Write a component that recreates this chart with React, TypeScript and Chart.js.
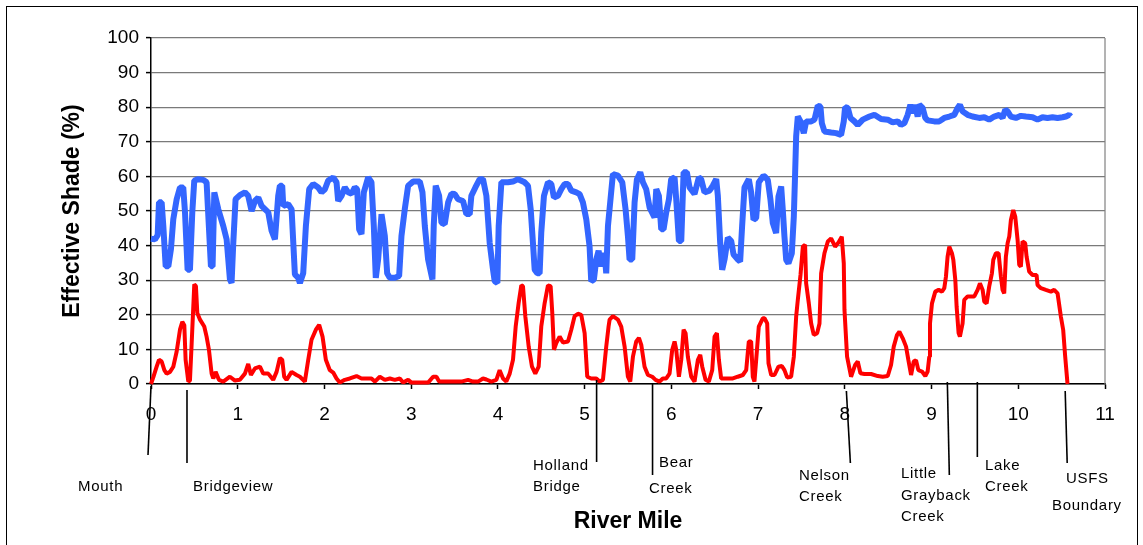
import React, { useEffect, useRef } from "react";
import { Chart, registerables } from "chart.js";

Chart.register(...registerables);

const FONT = '"Liberation Sans", Arial, sans-serif';

const xTickValues = [0, 1, 2, 3, 4, 5, 6, 7, 8, 9, 10, 11];
const yTickValues = [0, 10, 20, 30, 40, 50, 60, 70, 80, 90, 100];

const blueMiles = [
  0.0, 0.046, 0.077, 0.092, 0.123, 0.142, 0.169, 0.2, 0.23, 0.257, 0.296, 0.334, 0.372, 0.392, 0.422, 0.449, 0.476, 0.499,
  0.545, 0.603, 0.641, 0.661, 0.691, 0.71, 0.73, 0.776, 0.833, 0.872, 0.91, 0.929, 0.949, 0.975, 1.025, 1.083, 1.121, 1.16,
  1.198, 1.237, 1.275, 1.352, 1.39, 1.429, 1.467, 1.486, 1.513, 1.525, 1.582, 1.621, 1.659, 1.697,
  1.717, 1.755, 1.786, 1.824, 1.87, 1.928, 1.966, 2.005, 2.043, 2.101, 2.139, 2.158, 2.197, 2.235, 2.273, 2.312, 2.35, 2.377,
  2.4, 2.427, 2.454, 2.504, 2.542, 2.569, 2.592, 2.619, 2.658, 2.696, 2.723, 2.753, 2.811, 2.861, 2.888, 2.926, 2.965, 3.022,
  3.099, 3.13, 3.157, 3.195, 3.245, 3.26, 3.283, 3.322, 3.349, 3.387, 3.426, 3.464,
  3.502, 3.54, 3.598, 3.636, 3.675, 3.694, 3.74, 3.79, 3.828, 3.867, 3.905, 3.944, 3.963, 3.994, 4.009, 4.04, 4.116, 4.174,
  4.232, 4.308, 4.347, 4.378, 4.404, 4.424, 4.454, 4.481, 4.5, 4.531, 4.577, 4.616, 4.646, 4.692, 4.731, 4.769, 4.808, 4.846,
  4.904, 4.942, 4.98, 5.019, 5.057, 5.076, 5.107, 5.134, 5.161, 5.192, 5.23, 5.249, 5.269,
  5.326, 5.384, 5.434, 5.472, 5.499, 5.518, 5.549, 5.576, 5.603, 5.641, 5.672, 5.71, 5.749, 5.787, 5.806, 5.826, 5.856, 5.883,
  5.91, 5.941, 5.972, 5.998, 6.037, 6.056, 6.087, 6.114, 6.141, 6.179, 6.21, 6.267, 6.317, 6.344, 6.382, 6.44, 6.478, 6.517,
  6.536, 6.563, 6.586, 6.613, 6.651, 6.69, 6.717, 6.766, 6.793, 6.816, 6.843, 6.893, 6.92, 6.947, 6.978, 7.008, 7.062,
  7.074, 7.112, 7.143, 7.17, 7.208, 7.235, 7.266, 7.285, 7.304, 7.324, 7.35, 7.389, 7.412, 7.427, 7.439, 7.458, 7.489, 7.527,
  7.554, 7.612, 7.65, 7.688, 7.719, 7.735, 7.765, 7.842, 7.9, 7.957, 7.988, 8.003, 8.034, 8.065, 8.111, 8.149, 8.207, 8.284,
  8.341, 8.418, 8.495, 8.552, 8.61, 8.648, 8.687, 8.725, 8.756, 8.783, 8.81, 8.84,
  8.859, 8.897, 8.928, 8.955, 9.032, 9.089, 9.147, 9.205, 9.262, 9.301, 9.327, 9.358, 9.416, 9.473, 9.55, 9.608, 9.665, 9.723,
  9.781, 9.819, 9.85, 9.877, 9.915, 9.973, 10.03, 10.088, 10.165, 10.222, 10.28, 10.337, 10.395, 10.453, 10.51, 10.549, 10.587,
  10.606,
];

const blueShade = [
  42, 41.8, 43, 52.5, 52.5, 45.7, 34, 34, 39, 47.6, 53.4, 56.8, 56.8, 49.6, 33, 33, 49.6, 58.8,
  59.2, 59, 58.3, 48.6, 34, 34, 55.4, 50.5, 45.7, 41.8, 30.2, 29.2, 40.9, 53.4, 54.6, 55.4, 54.4, 50,
  52.9, 53.9, 51.5, 49.6, 44.3, 41.8, 54.4, 57.3, 57.3, 51.5, 52, 50.5, 31.7, 30.7,
  29.2, 32, 45.7, 56.3, 57.8, 56.8, 55.4, 56.3, 58.8, 59.7, 58.3, 52.9, 54.4, 56.8, 55.4, 55, 56.8, 56.3,
  44.7, 43.3, 55.4, 59.7, 58.3, 45.7, 30.7, 36, 49.1, 42.8, 32, 30.7, 30.7, 31.2, 42.8, 50.5, 57.3, 58.5,
  58.5, 55.4, 45.7, 36, 30.2, 45.7, 57.3, 54.4, 46.6, 46.2, 52.5, 55,
  54.9, 53.4, 52.9, 49.1, 49.1, 54.4, 56.8, 59.2, 59.2, 54.4, 40.8, 33, 29.7, 29.2, 45.7, 58.3, 58.3, 58.5,
  59.2, 58.3, 57.3, 50.5, 40.8, 33, 32, 32, 43.8, 54.4, 58.3, 57.8, 53.9, 54.4, 56.3, 57.8, 57.8, 55.9,
  55.4, 54.9, 52.5, 47.6, 39.8, 29.7, 30.2, 36, 38.5, 34, 37.9, 32, 45.7,
  60.7, 60.2, 58.3, 50.5, 42.8, 36, 36, 52.5, 59.2, 61.2, 58.3, 56.3, 51, 49.1, 48.1, 56.3, 54.4, 44.7,
  44.7, 49.6, 53.4, 59.2, 59.7, 53.4, 41.3, 41.3, 61.2, 61.2, 56.8, 54.9, 59.7, 59.2, 55.4, 55.9, 57.3, 59.2,
  54.4, 40.8, 33, 36, 42.3, 41.3, 37.4, 36, 35.4, 45.7, 56.8, 59.2, 55.4, 47.5, 48, 58.3, 60.2,
  60, 59, 53.2, 46.5, 43.6, 54.2, 57.1, 50.3, 42.6, 35.9, 34.9, 37.8, 48.4, 60.9, 71.6, 77.3, 75.9, 72.5,
  75.9, 75.9, 76.4, 80.4, 80.2, 75.4, 73, 72.7, 72.5, 72, 75.9, 80, 79.8, 76.9, 75.9, 74.9, 76.4, 77.3,
  77.8, 76.6, 76.4, 75.6, 75.9, 74.9, 75.4, 77.8, 80.7, 78.3, 80.7, 77.3,
  80.7, 79.8, 76.9, 76.2, 75.9, 75.9, 76.9, 77.3, 77.8, 79.8, 80.7, 78.8, 77.8, 77.3, 76.9, 77.1, 76.4, 77.3,
  77.8, 76.9, 79.3, 78.8, 77.3, 76.9, 77.5, 77.3, 77.1, 76.4, 77.1, 76.9, 77.1, 76.9, 77.1, 77.3, 77.8,
  77.3,
];

const redMiles = [
  0.0, 0.027, 0.065, 0.092, 0.123, 0.154, 0.18, 0.219, 0.257, 0.296, 0.334, 0.361, 0.384, 0.399, 0.43, 0.449, 0.469, 0.488,
  0.499, 0.518, 0.534, 0.565, 0.614, 0.641, 0.668, 0.699, 0.718, 0.745, 0.783, 0.833, 0.91, 0.968, 1.025, 1.083, 1.121, 1.152,
  1.198, 1.256, 1.294, 1.352, 1.409, 1.448, 1.486, 1.513, 1.536, 1.563, 1.621, 1.678,
  1.717, 1.774, 1.813, 1.851, 1.901, 1.939, 1.978, 2.016, 2.062, 2.101, 2.139, 2.177, 2.235, 2.293, 2.37, 2.427, 2.542, 2.581,
  2.638, 2.696, 2.754, 2.811, 2.869, 2.907, 2.965, 3.003, 3.099, 3.195, 3.253, 3.291, 3.322, 3.406,
  3.502, 3.579, 3.656, 3.713, 3.771, 3.828, 3.867, 3.924, 3.982, 4.02, 4.059, 4.097, 4.136, 4.174, 4.205, 4.239, 4.27, 4.289,
  4.316, 4.355, 4.393, 4.431, 4.47, 4.5, 4.539, 4.577, 4.608, 4.627, 4.646, 4.673, 4.712, 4.75, 4.808, 4.846, 4.884, 4.923,
  4.961, 5.0, 5.03, 5.076, 5.134, 5.172, 5.211, 5.249, 5.276,
  5.288, 5.326, 5.384, 5.422, 5.461, 5.499, 5.526, 5.557, 5.595, 5.626, 5.653, 5.691, 5.73, 5.78, 5.818, 5.864, 5.902, 5.941,
  5.979, 6.01, 6.037, 6.056, 6.087, 6.114, 6.141, 6.164, 6.19, 6.229, 6.267, 6.306, 6.333, 6.356, 6.394, 6.432, 6.471, 6.498,
  6.525, 6.548, 6.574, 6.632, 6.709, 6.766, 6.824, 6.863, 6.893, 6.92, 6.939, 6.958, 6.978, 7.008, 7.054,
  7.074, 7.105, 7.12, 7.151, 7.189, 7.235, 7.274, 7.304, 7.335, 7.381, 7.412, 7.439, 7.458, 7.489, 7.516, 7.542, 7.554, 7.585,
  7.612, 7.642, 7.681, 7.708, 7.727, 7.765, 7.804, 7.842, 7.888, 7.927, 7.965, 7.988, 7.996, 8.026, 8.072, 8.119, 8.149, 8.18,
  8.226, 8.303, 8.38, 8.437, 8.495, 8.533, 8.564, 8.602, 8.629, 8.668, 8.706, 8.733, 8.764, 8.794, 8.821, 8.848,
  8.89, 8.928, 8.955, 8.974, 8.982, 9.005, 9.043, 9.082, 9.12, 9.147, 9.166, 9.185, 9.205, 9.235, 9.251, 9.274, 9.289, 9.312,
  9.327, 9.358, 9.377, 9.416, 9.493, 9.531, 9.558, 9.589, 9.608, 9.635, 9.665, 9.696, 9.712, 9.742, 9.773, 9.8, 9.819, 9.838,
  9.857, 9.877, 9.896, 9.915, 9.942, 9.965, 9.992, 10.011, 10.03, 10.049, 10.08, 10.096, 10.126, 10.165, 10.211, 10.222, 10.261,
  10.318, 10.376, 10.414, 10.453, 10.491, 10.518, 10.541, 10.568,
];

const redShade = [
  0, 2, 5, 7, 6.5, 4, 3, 3.5, 5, 9.4, 15.7, 18, 17, 7, 0.7, 1, 11.8, 22.5,
  28.8, 28.3, 20.5, 18.6, 16.6, 13.7, 9.9, 3, 1.6, 3.5, 1.2, 0.7, 2.1, 1, 1.2, 3, 5.8, 2.6,
  4.5, 5, 3, 3, 1.2, 3.5, 7.5, 7, 2.1, 1.2, 3.5, 2.6,
  2.1, 0.7, 7, 12.8, 15.7, 17.1, 13.7, 7, 4, 3.3, 1.6, 0.4, 1.2, 1.6, 2.3, 1.6, 1.6, 0.7,
  2.1, 1.2, 1.6, 1.2, 1.6, 0.4, 1.2, 0.4, 0.4, 0.4, 2.1, 2.1, 0.7, 0.7,
  0.7, 0.7, 1.2, 0.7, 0.7, 1.6, 1.3, 0.7, 1.2, 4, 1.6, 0.7, 3, 7, 16.6, 23.4, 28.5, 28.3,
  19.6, 10.8, 5, 3, 5, 16.6, 23.4, 28.5, 28.3, 20.5, 9.9, 11.8, 13.7, 12, 12.3, 15.7, 19.6, 20.3,
  20, 14.7, 2.1, 1.6, 1.6, 0.7, 1.2, 10.8, 16.6,
  18.6, 19.6, 18.6, 16.6, 10.8, 2.1, 0.7, 7.9, 12.3, 13.3, 11.3, 5, 2.6, 2.1, 1.2, 0.7, 1.6, 1.6,
  3, 9.9, 12.3, 9.9, 2.1, 7, 15.7, 14.7, 7.9, 2.1, 0.7, 7, 8.4, 5, 1.2, 0.7, 4, 13.7,
  14.7, 7, 1.6, 1.6, 1.6, 2.1, 2.6, 4, 12.3, 12.3, 2.1, 0.7, 7, 16.6, 19,
  19, 17.5, 6, 2.6, 2.6, 5, 5.2, 4, 1.9, 2.1, 7.9, 19.5, 24.3, 31.5, 39.7, 40.2, 29.1, 23.3,
  17.5, 14.2, 14.7, 17.5, 32, 37.8, 41.2, 42.1, 39.7, 40.9, 42.6, 34.9, 21.4, 7.9, 2.1, 5.5, 6.5, 3.1,
  2.9, 2.9, 2.3, 2.1, 2.3, 5.5, 10.8, 14.2, 15.1, 13.2, 10.8, 6.9, 2.6, 6.5, 6.9, 4,
  3.6, 2.3, 3.6, 7.9, 17.5, 23.3, 26.7, 27.2, 26.7, 27.7, 31, 36.8, 39.7, 37.8, 35.9, 30.1, 22.4, 14.7,
  13.7, 17.5, 24.3, 25.3, 25.3, 27.2, 29.1, 27.2, 23.8, 23.3, 28.2, 32, 35.9, 37.8, 37.8, 31, 27.2, 26.2,
  36.8, 40.7, 42.6, 47.4, 50.3, 48.4, 41.7, 34.4, 33.9, 41.2, 40.7, 36.8, 32.5, 31.5, 31.5, 28.6, 27.7,
  27.2, 26.7, 27.2, 26.2, 19.5, 15.6, 7.9, 0,
];

const landmarkNames = [
  ["Mouth"],
  ["Bridgeview"],
  ["Holland", "Bridge"],
  ["Bear", "Creek"],
  ["Nelson", "Creek"],
  ["Little", "Grayback", "Creek"],
  ["Lake", "Creek"],
  ["USFS", "Boundary"],
];
const landmarkMiles = [0, 0.415, 5.138, 5.783, 8.018, 9.182, 9.528, 10.541];

// annotation layout (pixels): leader line top/bottom, slant of bottom end, text line anchors
const landmarkLayout = [
  { top: 386, bottom: 455, slant: -3, text: [[78, 487]] },
  { top: 390, bottom: 463, slant: 0, text: [[193, 487]] },
  { top: 380, bottom: 462, slant: 0, text: [[533, 466], [533, 487]] },
  { top: 384, bottom: 475, slant: 0, text: [[659, 463], [649, 489]] },
  { top: 391, bottom: 463, slant: 4, text: [[799, 476], [799, 497]] },
  { top: 382, bottom: 475, slant: 2, text: [[901, 474], [901, 496], [901, 517]] },
  { top: 382, bottom: 457, slant: 0, text: [[985, 466], [985, 487]] },
  { top: 391, bottom: 463, slant: 2, text: [[1066, 479], [1052, 506]] },
];

const annotationPlugin = {
  id: "landmarks",
  beforeDatasetsDraw(chart: any) {
    const { ctx, chartArea } = chart;
    ctx.save();
    ctx.strokeStyle = "#808080";
    ctx.lineWidth = 1.2;
    ctx.beginPath();
    ctx.moveTo(chartArea.right, chartArea.top);
    ctx.lineTo(chartArea.right, chartArea.bottom);
    ctx.stroke();
    ctx.restore();
  },
  afterDraw(chart: any) {
    const { ctx } = chart;
    const xs = chart.scales.x;
    ctx.save();
    ctx.strokeStyle = "#000";
    ctx.lineWidth = 1.6;
    ctx.fillStyle = "#000";
    ctx.font = `15px ${FONT}`;
    try {
      (ctx as any).letterSpacing = "0.7px";
    } catch (e) {}
    ctx.textBaseline = "middle";
    ctx.textAlign = "left";
    landmarkMiles.forEach((m, i) => {
      const L = landmarkLayout[i];
      const x = xs.getPixelForValue(m);
      ctx.beginPath();
      ctx.moveTo(x, L.top);
      ctx.lineTo(x + L.slant, L.bottom);
      ctx.stroke();
      landmarkNames[i].forEach((line, j) => {
        const [tx, ty] = L.text[j];
        ctx.fillText(line, tx, ty);
      });
    });
    ctx.restore();
  },
};

export default function App() {
  const ref = useRef<HTMLCanvasElement | null>(null);

  useEffect(() => {
    if (!ref.current) return;
    const chart = new Chart(ref.current, {
      type: "line",
      data: {
        datasets: [
          {
            label: "Red",
            data: redMiles.map((x, i) => ({ x, y: redShade[i] })),
            borderColor: "#FF0000",
            backgroundColor: "#FF0000",
            borderWidth: 4,
            pointRadius: 0,
            tension: 0,
            borderJoinStyle: "bevel",
            clip: false as any,
          },
          {
            label: "Blue",
            data: blueMiles.map((x, i) => ({ x, y: blueShade[i] })),
            borderColor: "#3366FF",
            backgroundColor: "#3366FF",
            borderWidth: 6,
            pointRadius: 0,
            tension: 0,
            borderJoinStyle: "bevel",
            clip: false as any,
          },
        ],
      },
      options: {
        responsive: false,
        animation: false,
        events: [],
        layout: { padding: { top: 38, right: 38, left: 0, bottom: 0 } },
        plugins: { legend: { display: false }, tooltip: { enabled: false } },
        scales: {
          x: {
            type: "linear",
            min: 0,
            max: 11,
            afterBuildTicks: (s: any) => {
              s.ticks = xTickValues.map((v) => ({ value: v }));
            },
            ticks: {
              color: "#000",
              font: { family: FONT, size: 19 },
              padding: 14,
              maxRotation: 0,
              autoSkip: false,
            },
            grid: {
              drawOnChartArea: false,
              drawTicks: true,
              tickLength: 5,
              tickColor: "#000",
              tickWidth: 1.5,
            },
            border: { color: "#000", width: 1.5 },
            title: {
              display: true,
              text: "River Mile",
              color: "#000",
              font: { family: FONT, size: 23, weight: "bold" },
              padding: { top: 0, bottom: 10 },
            },
            afterFit: (s: any) => {
              s.height = 161;
            },
          },
          y: {
            type: "linear",
            min: 0,
            max: 100,
            afterBuildTicks: (s: any) => {
              s.ticks = yTickValues.map((v) => ({ value: v }));
            },
            ticks: {
              color: "#000",
              font: { family: FONT, size: 19 },
              padding: 7,
            },
            grid: {
              color: "#7a7a7a",
              lineWidth: 1.2,
              drawTicks: true,
              tickLength: 5,
              tickColor: "#000",
              tickWidth: 1.5,
            },
            border: { color: "#000", width: 1.5 },
            title: {
              display: true,
              text: "Effective Shade (%)",
              color: "#000",
              font: { family: FONT, size: 23, weight: "bold" },
              padding: { top: 59, bottom: 0 },
            },
            afterFit: (s: any) => {
              s.width = 151;
            },
          },
        },
      },
      plugins: [annotationPlugin],
    } as any);
    return () => chart.destroy();
  }, []);

  return (
    <div style={{ position: "fixed", left: 0, top: 0, width: 1143, height: 545, background: "#fff" }}>
      <div
        style={{
          position: "absolute",
          left: 6,
          top: 6,
          width: 1132,
          height: 600,
          border: "1px solid #000",
          boxSizing: "border-box",
        }}
      />
      <canvas ref={ref} width={1143} height={545} style={{ position: "absolute", left: 0, top: 0 }} />
    </div>
  );
}
